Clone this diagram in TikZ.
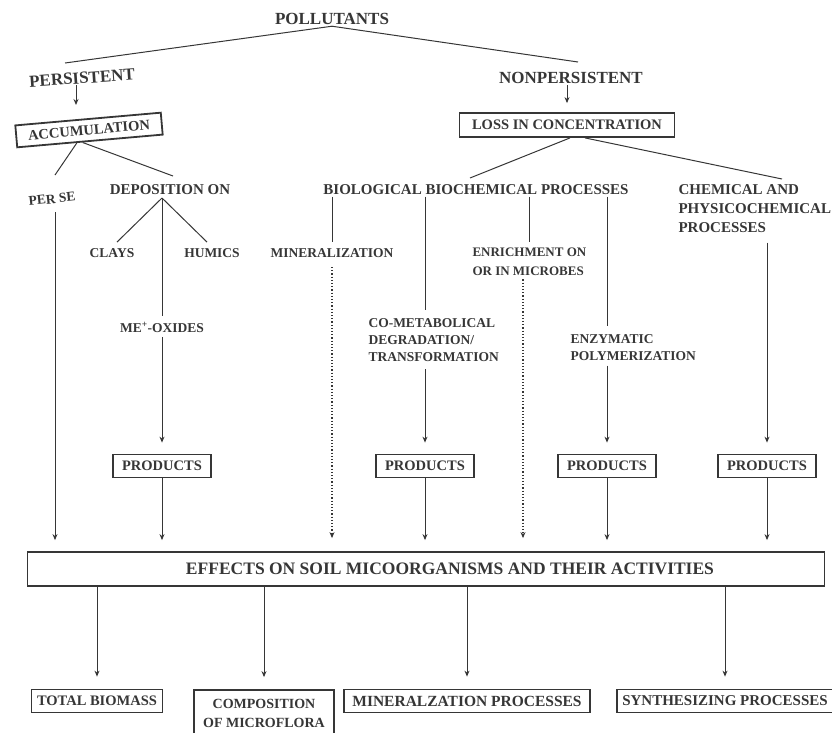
\documentclass[tikz,border=0pt]{standalone}
\usepackage{fontspec}
\setmainfont{Liberation Serif}
\usetikzlibrary{arrows.meta,calc}
\definecolor{ink}{HTML}{363636}

\begin{document}
\begin{tikzpicture}
	[x=1pt, y=-1pt, draw=ink, text=ink, line width=1pt,
	 >={Stealth[length=6pt,width=5pt]},
	 lbig/.style={font=\bfseries\fontsize{17}{20}\selectfont, inner sep=1pt},
	 lmid/.style={font=\bfseries\fontsize{15}{19}\selectfont, inner sep=1pt, align=left},
	 lsml/.style={font=\bfseries\fontsize{13.5}{17}\selectfont, inner sep=1pt, align=left},
	 box/.style={draw, line width=1.8pt, inner xsep=5pt, inner ysep=0pt, minimum height=23pt,
	   font=\bfseries\fontsize{14.5}{19}\selectfont},
	 prodbox/.style={box, minimum width=98pt},
	 dots/.style={dotted, line width=1.2pt}]
	\useasboundingbox (0,0) rectangle (832,732);

	% top of the tree
	\node[lbig] (poll) at (332,19) {POLLUTANTS};
	\node[lbig, rotate=4] (pers) at (82,78) {PERSISTENT};
	\node[lbig] (nonp) at (571,78) {NONPERSISTENT};
	\coordinate (pl) at (65,63);
	\coordinate (pr) at (578,62);
	\draw (pl) -- (poll.south) -- (pr);

	\node[box, rotate=5, minimum width=146pt, minimum height=22pt] (acc) at (89,130) {ACCUMULATION};
	\node[box, minimum width=215pt, minimum height=24pt] (loss) at (567,125) {LOSS IN CONCENTRATION};
	\coordinate (pa) at (76,105);
	\draw[->] (pers.south -| pa) -- (pa);
	\draw[->, shorten >=9pt] (nonp.south -| loss.north) -- (loss.north);

	% persistent branch
	\node[lsml, rotate=6] (perse) at (52,199) {PER SE};
	\node[lmid] (dep) at (170,190) {DEPOSITION ON};
	\coordinate (acc1) at ($(acc.south west)!0.41!(acc.south east)$);
	\coordinate (acc2) at ($(acc.south west)!0.45!(acc.south east)$);
	\coordinate (perse-in) at (55,175);
	\coordinate (dep-in) at (173,176);
	\draw (acc1) -- (perse-in);
	\draw (acc2) -- (dep-in);

	\node[lsml] (clays) at (112,253) {CLAYS};
	\node[lsml] (humics) at (212,253) {HUMICS};
	\node[lsml] (meox) at (162,327) {ME\textsuperscript{+}-OXIDES};
	\coordinate (dj) at (162,198);
	\draw[shorten >=7pt] (dj) -- (clays.north);
	\draw[shorten >=7pt] (dj) -- (humics.north);
	\draw[shorten >=4pt] (dj) -- (dj |- meox.north);

	\node[prodbox] (prod1) at (162,466) {PRODUCTS};
	\draw[->, shorten <=3pt, shorten >=11pt] (meox.south -| prod1) -- (prod1.north);

	% nonpersistent branch
	\node[lmid] (bio) at (476,190) {BIOLOGICAL BIOCHEMICAL PROCESSES};
	\node[lmid, anchor=west] (chem) at (677,209) {CHEMICAL AND\\PHYSICOCHEMICAL\\PROCESSES};
	\coordinate (bio-in) at (470,178);
	\coordinate (chem-in) at (782,179);
	\draw ([xshift=3pt]loss.south) -- (bio-in);
	\draw ([xshift=18pt]loss.south) -- (chem-in);

	\node[lsml] (miner) at (332,253) {MINERALIZATION};
	\node[lsml, anchor=west] (cometab) at (367,340) {CO-METABOLICAL\\DEGRADATION/\\TRANSFORMATION};
	\node[lsml, anchor=west, font=\bfseries\fontsize{13}{19}\selectfont] (enrich) at (471,262) {ENRICHMENT ON\\OR IN MICROBES};
	\node[lsml, anchor=west] (enzym) at (569,348) {ENZYMATIC\\POLYMERIZATION};

	\node[prodbox] (prod2) at (425,466) {PRODUCTS};
	\node[prodbox] (prod3) at (607,466) {PRODUCTS};
	\node[prodbox] (prod4) at (767,466) {PRODUCTS};

	\draw[shorten >=5pt] (bio.south -| miner) -- (miner.north);
	\draw[shorten >=7pt] (bio.south -| prod2) -- (cometab.north -| prod2);
	\draw[shorten >=5pt] (bio.south -| enrich.north) -- (enrich.north);
	\draw[shorten >=7pt] (bio.south -| prod3) -- (enzym.north -| prod3);

	\draw[->, shorten <=6pt, shorten >=11pt] (cometab.south -| prod2) -- (prod2.north);
	\draw[->, shorten <=3pt, shorten >=11pt] (enzym.south -| prod3) -- (prod3.north);
	\draw[->, shorten <=8pt, shorten >=11pt] (chem.south -| prod4) -- (prod4.north);

	% effects
	\node[box, minimum width=797pt, minimum height=34pt, font=\bfseries\fontsize{17.5}{20}\selectfont]
	  (eff) at (426,569) {\hspace*{48pt}EFFECTS ON SOIL MICOORGANISMS AND THEIR ACTIVITIES};
	\coordinate (ps) at (55,212);
	\draw[->, shorten >=11pt] (ps) -- (ps |- eff.north);
	\draw[->, shorten >=11pt] (prod1.south) -- (prod1 |- eff.north);
	\draw[->, shorten >=11pt] (prod2.south) -- (prod2 |- eff.north);
	\draw[->, shorten >=11pt] (prod3.south) -- (prod3 |- eff.north);
	\draw[->, shorten >=11pt] (prod4.south) -- (prod4 |- eff.north);
	\draw[->, dots, shorten <=8pt, shorten >=13pt] (miner.south) -- (miner.south |- eff.north);
	\draw[->, dots, shorten <=2pt, shorten >=13pt] (enrich.south -| 523,0) -- (523,0 |- eff.north);

	% results
	\node[box, minimum width=131pt] (tb) at (97,701) {TOTAL BIOMASS};
	\node[box, minimum width=140pt, minimum height=46pt, align=center, font=\bfseries\fontsize{14}{19}\selectfont]
	  (comp) at (264,713) {COMPOSITION\\OF MICROFLORA};
	\node[box, minimum width=246pt, font=\bfseries\fontsize{15.5}{19}\selectfont] (minpr) at (467,701) {MINERALZATION PROCESSES};
	\node[box, minimum width=209pt, font=\bfseries\fontsize{15}{19}\selectfont] (syn) at (725,701) {SYNTHESIZING PROCESSES};
	\foreach \b in {tb,comp,minpr,syn}
	  \draw[->, shorten >=12pt] (eff.south -| \b.north) -- (\b.north);
\end{tikzpicture}
\end{document}
